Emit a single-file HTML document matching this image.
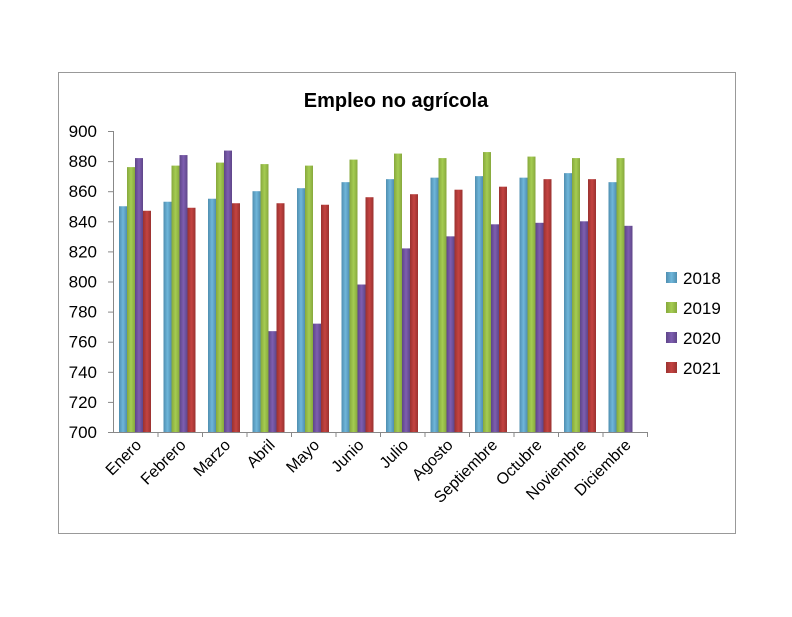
<!DOCTYPE html>
<html><head><meta charset="utf-8">
<style>
body{margin:0;background:#fff;width:792px;height:612px;overflow:hidden}
svg{font-family:"Liberation Sans",Calibri,sans-serif}
</style></head><body>
<svg width="792" height="612">
<defs>
<linearGradient id="g0" x1="0" x2="1"><stop offset="0" stop-color="#4f8eb0"/><stop offset="0.5" stop-color="#6fb6da"/><stop offset="1" stop-color="#4f8eb0"/></linearGradient>
<linearGradient id="g1" x1="0" x2="1"><stop offset="0" stop-color="#86a83c"/><stop offset="0.5" stop-color="#a5cc52"/><stop offset="1" stop-color="#86a83c"/></linearGradient>
<linearGradient id="g2" x1="0" x2="1"><stop offset="0" stop-color="#5e4588"/><stop offset="0.5" stop-color="#7e5eb0"/><stop offset="1" stop-color="#5e4588"/></linearGradient>
<linearGradient id="g3" x1="0" x2="1"><stop offset="0" stop-color="#9a3230"/><stop offset="0.5" stop-color="#c44341"/><stop offset="1" stop-color="#9a3230"/></linearGradient>
</defs>
<rect x="58.5" y="72.5" width="677" height="461" fill="#fff" stroke="#999"/>
<text x="396" y="107" text-anchor="middle" font-size="20" font-weight="bold">Empleo no agrícola</text>
<g id="axes"></g>
<g id="bars"></g>
<g id="legend"></g>
</svg>
<script>
const categories=["Enero","Febrero","Marzo","Abril","Mayo","Junio","Julio","Agosto","Septiembre","Octubre","Noviembre","Diciembre"];
const seriesNames=["2018","2019","2020","2021"];
const s2018=[850,853,855,860,862,866,868,869,870,869,872,866];
const s2019=[876,877,879,878,877,881,885,882,886,883,882,882];
const s2020=[882,884,887,767,772,798,822,830,838,839,840,837];
const s2021=[847,849,852,852,851,856,858,861,863,868,868,null];
const yTicks=[700,720,740,760,780,800,820,840,860,880,900];
const series=[s2018,s2019,s2020,s2021];
const NS="http://www.w3.org/2000/svg";
const X0=113,X1=647,Y0=432,Y1=131,VMIN=700,VMAX=900;
const gw=(X1-X0)/categories.length;
function y(v){return Y0-(v-VMIN)/(VMAX-VMIN)*(Y0-Y1);}
function mk(t,a,p){const e=document.createElementNS(NS,t);for(const k in a)e.setAttribute(k,a[k]);p.appendChild(e);return e;}
const axes=document.getElementById('axes'),bars=document.getElementById('bars'),leg=document.getElementById('legend');
let yl=mk('line',{x1:X0+.5,x2:X0+.5,y1:Y1,y2:Y0,stroke:'#888'},axes);


let xl=mk('line',{x1:X0,x2:X1,y1:Y0+.5,y2:Y0+.5,stroke:'#888'},axes);


yTicks.forEach(v=>{
 mk('line',{x1:X0-5,x2:X0,y1:y(v)+.5,y2:y(v)+.5,stroke:'#888'},axes);
 const t=mk('text',{x:X0-16,y:y(v)+6,'text-anchor':'end','font-size':17},axes);t.textContent=v;
 
 
});
categories.forEach((c,i)=>{
 const gx=X0+i*gw;
 mk('line',{x1:gx+gw+.5,x2:gx+gw+.5,y1:Y0,y2:Y0+5,stroke:'#888'},axes);
 const cx=gx+gw/2+7,cy=Y0+14;
 const t=mk('text',{x:cx,y:cy,'text-anchor':'end','font-size':16,transform:`rotate(-45 ${cx} ${cy})`},axes);t.textContent=c;
 
 
 series.forEach((s,j)=>{
  const v=s[i];if(v==null)return;
  const r=mk('rect',{x:gx+6+j*8,y:y(v),width:8,height:Y0-y(v),fill:`url(#g${j})`},bars);
  
  
 });
});
seriesNames.forEach((n,j)=>{
 const ly=272+j*30;
 const r=mk('rect',{x:666,y:ly,width:11,height:11,fill:`url(#g${j})`},leg);
 
 
 const t=mk('text',{x:683,y:ly+12,'font-size':17},leg);t.textContent=n;
 
 
});
</script>
</body></html>
